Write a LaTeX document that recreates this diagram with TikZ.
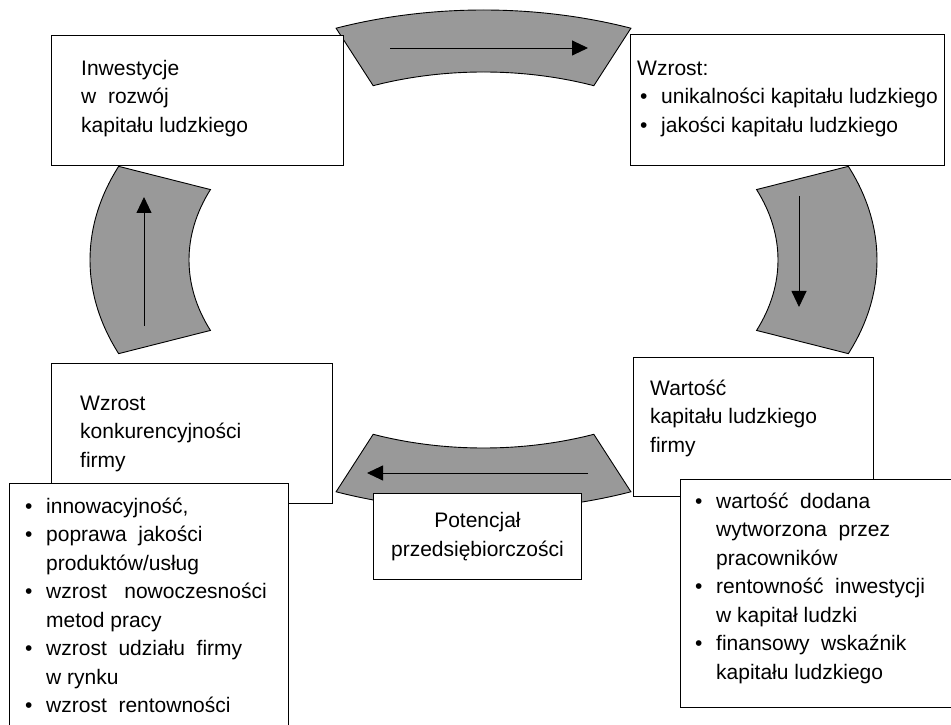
\documentclass[tikz,border=0pt]{standalone}
\usepackage{fontspec}
\setmainfont{Liberation Sans}
\usetikzlibrary{positioning,arrows.meta,calc}
\definecolor{pasekszary}{RGB}{153,153,153}
\newcommand{\pkt}{\makebox[21pt][l]{\textbullet}}
\newcommand{\dalej}{\hspace*{21pt}}
\tikzset{
    blok/.style={draw, fill=white, line width=0.9pt, rectangle, anchor=north west, inner sep=0pt},
    opis/.style={anchor=north west, inner sep=0pt, align=left},
    pasek/.style={draw, fill=pasekszary, line width=0.9pt},
    strzalka/.style={-{Triangle[length=16pt,width=15pt]}, line width=0.9pt},
}

\begin{document}
\begin{tikzpicture}[x=1pt, y=1pt, font=\fontsize{21}{28.5}\selectfont]
    \useasboundingbox (0,0) rectangle (951,724);
    \coordinate (srodek) at (483.5,464);
    \begin{scope}[shift={(srodek)}]
      \draw[pasek] (68:393.5pt and 250pt) arc[start angle=68, end angle=112, x radius=393.5pt, y radius=250pt]
        -- (112:294.5pt and 188pt) arc[start angle=112, end angle=68, x radius=294.5pt, y radius=188pt] -- cycle;
      \draw[pasek] (-22:393.5pt and 250pt) arc[start angle=-22, end angle=22, x radius=393.5pt, y radius=250pt]
        -- (22:294.5pt and 188pt) arc[start angle=22, end angle=-22, x radius=294.5pt, y radius=188pt] -- cycle;
      \draw[pasek] (248:393.5pt and 250pt) arc[start angle=248, end angle=292, x radius=393.5pt, y radius=250pt]
        -- (292:294.5pt and 188pt) arc[start angle=292, end angle=248, x radius=294.5pt, y radius=188pt] -- cycle;
      \draw[pasek] (158:393.5pt and 250pt) arc[start angle=158, end angle=202, x radius=393.5pt, y radius=250pt]
        -- (202:294.5pt and 188pt) arc[start angle=202, end angle=158, x radius=294.5pt, y radius=188pt] -- cycle;
    \end{scope}
    \coordinate (g1) at (390,676);
    \coordinate (g2) at (588,676);
    \coordinate (p1) at (799,528);
    \coordinate (p2) at (799,417);
    \coordinate (d1) at (588,251);
    \coordinate (d2) at (367,251);
    \coordinate (l1) at (144,398);
    \coordinate (l2) at (144,527);
    \draw[strzalka] (g1) -- (g2);
    \draw[strzalka] (p1) -- (p2);
    \draw[strzalka] (d1) -- (d2);
    \draw[strzalka] (l1) -- (l2);

    \node[blok, minimum width=292pt, minimum height=130pt] (inwest) at (51,689) {};
    \node[opis] (inwestTxt) at (81,669) {\strut Inwestycje\\w\ \ rozwój\\kapitału ludzkiego};

    \node[blok, minimum width=314pt, minimum height=131pt] (wzrost) at (630,690) {};
    \node[opis] (wzrostTxt) at (637,669) {\strut Wzrost:\\\hspace*{3pt}\pkt unikalności kapitału ludzkiego\\\hspace*{3pt}\pkt jakości kapitału ludzkiego};

    \node[blok, minimum width=281pt, minimum height=140pt] (konkur) at (51,361) {};
    \node[opis] (konkurTxt) at (80,334) {\strut Wzrost\\konkurencyjności\\firmy};
    \node[blok, minimum width=279pt, minimum height=260pt] (efekty) at (9,241) {};
    \node[opis] (efektyTxt) at (25,231) {\strut\pkt innowacyjność,\\\pkt poprawa\ \ jakości\\\dalej produktów/usług\\\pkt wzrost\ \ \ nowoczesności\\\dalej metod pracy\\\pkt wzrost\ \ udziału\ \ firmy\\\dalej w rynku\\\pkt wzrost\ \ rentowności};

    \node[blok, minimum width=240pt, minimum height=139pt] (wartosc) at (633,367) {};
    \node[opis] (wartoscTxt) at (650,349) {\strut Wartość\\kapitału ludzkiego\\firmy};
    \node[blok, minimum width=272pt, minimum height=228pt] (miary) at (680,245) {};
    \node[opis] (miaryTxt) at (695,236) {\strut\pkt wartość\ \ dodana\\\dalej wytworzona\ \ przez\\\dalej pracowników\\\pkt rentowność\ \ inwestycji\\\dalej w kapitał ludzki\\\pkt finansowy\ \ wskaźnik\\\dalej kapitału ludzkiego};

    \node[blok, minimum width=208pt, minimum height=86pt, align=center] (potenc) at (373,231) {Potencjał\\przedsiębiorczości};
\end{tikzpicture}
\end{document}
